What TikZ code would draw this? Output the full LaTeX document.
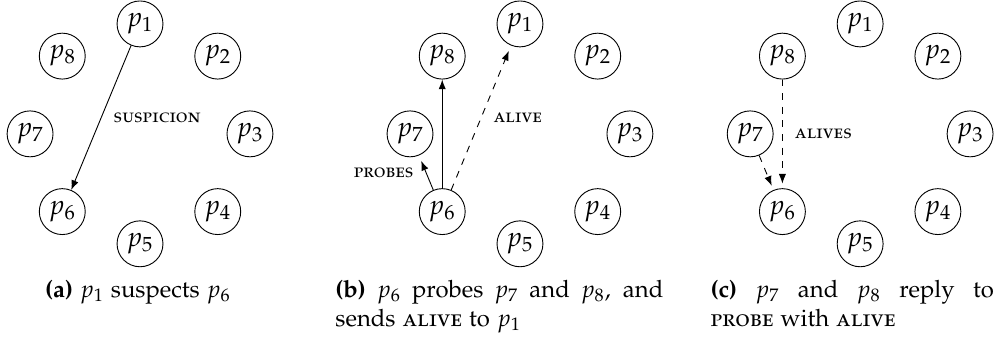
\documentclass[tikz,border=0pt]{standalone}
\usepackage[T1]{fontenc}
\usepackage[sc]{mathpazo}
\usetikzlibrary{arrows.meta}

\begin{document}
\begin{tikzpicture}[
    >={Latex[length=1.5mm]},
    proc/.style={draw, circle, minimum size=0.71cm, inner sep=0pt, font=\fontsize{12}{14}\selectfont},
    msg/.style={font=\fontsize{8.5}{10}\selectfont\scshape},
    caption/.style={inner sep=0pt, font=\fontsize{10.5}{12.8}\selectfont, align=justify},
]
    \useasboundingbox (0,2.07) rectangle (15.54,-3.19);

    % (a) suspicion
    \begin{scope}[xshift=2.165cm]
        \foreach \i in {1,...,8}
            \node[proc] (a\i) at ({90-45*(\i-1)}:1.7) {$p_{\i}$};
    \end{scope}
    \draw[->] (a1) -- node[msg, right=2pt] {suspicion} (a6);

    % (b) probes and alive
    \begin{scope}[xshift=8.04cm]
        \foreach \i in {1,...,8}
            \node[proc] (b\i) at ({90-45*(\i-1)}:1.7) {$p_{\i}$};
    \end{scope}
    \draw[->, shorten >=2.5pt] (b6) -- node[msg, left=2pt] {probes} (b7);
    \draw[->] (b6) -- (b8);
    \draw[->, dashed, shorten >=2.5pt] (b6) -- node[msg, right=2pt] {alive} (b1);

    % (c) replies
    \begin{scope}[xshift=13.30cm]
        \foreach \i in {1,...,8}
            \node[proc] (c\i) at ({90-45*(\i-1)}:1.7) {$p_{\i}$};
    \end{scope}
    \draw[->, dashed, shorten >=2pt] (c7) -- (c6);
    \draw[->, dashed, shorten >=2pt] (c8) -- node[msg, right=2pt] {alives} (c6);

    % captions
    \node[caption, anchor=north] (capa) at (2.134,-2.25)
        {\textbf{(a)} $p_1$ suspects $p_6$};
    \node[caption, anchor=north west, text width=5.07cm] (capb) at (5.18,-2.25)
        {\textbf{(b)} $p_6$ probes $p_7$ and $p_8$, and\linebreak sends \textsc{alive} to $p_1$};
    \node[caption, anchor=north west, text width=4.38cm] (capc) at (10.98,-2.25)
        {\textbf{(c)} $p_7$ and $p_8$ reply to\linebreak \textsc{probe} with \textsc{alive}};
\end{tikzpicture}
\end{document}
